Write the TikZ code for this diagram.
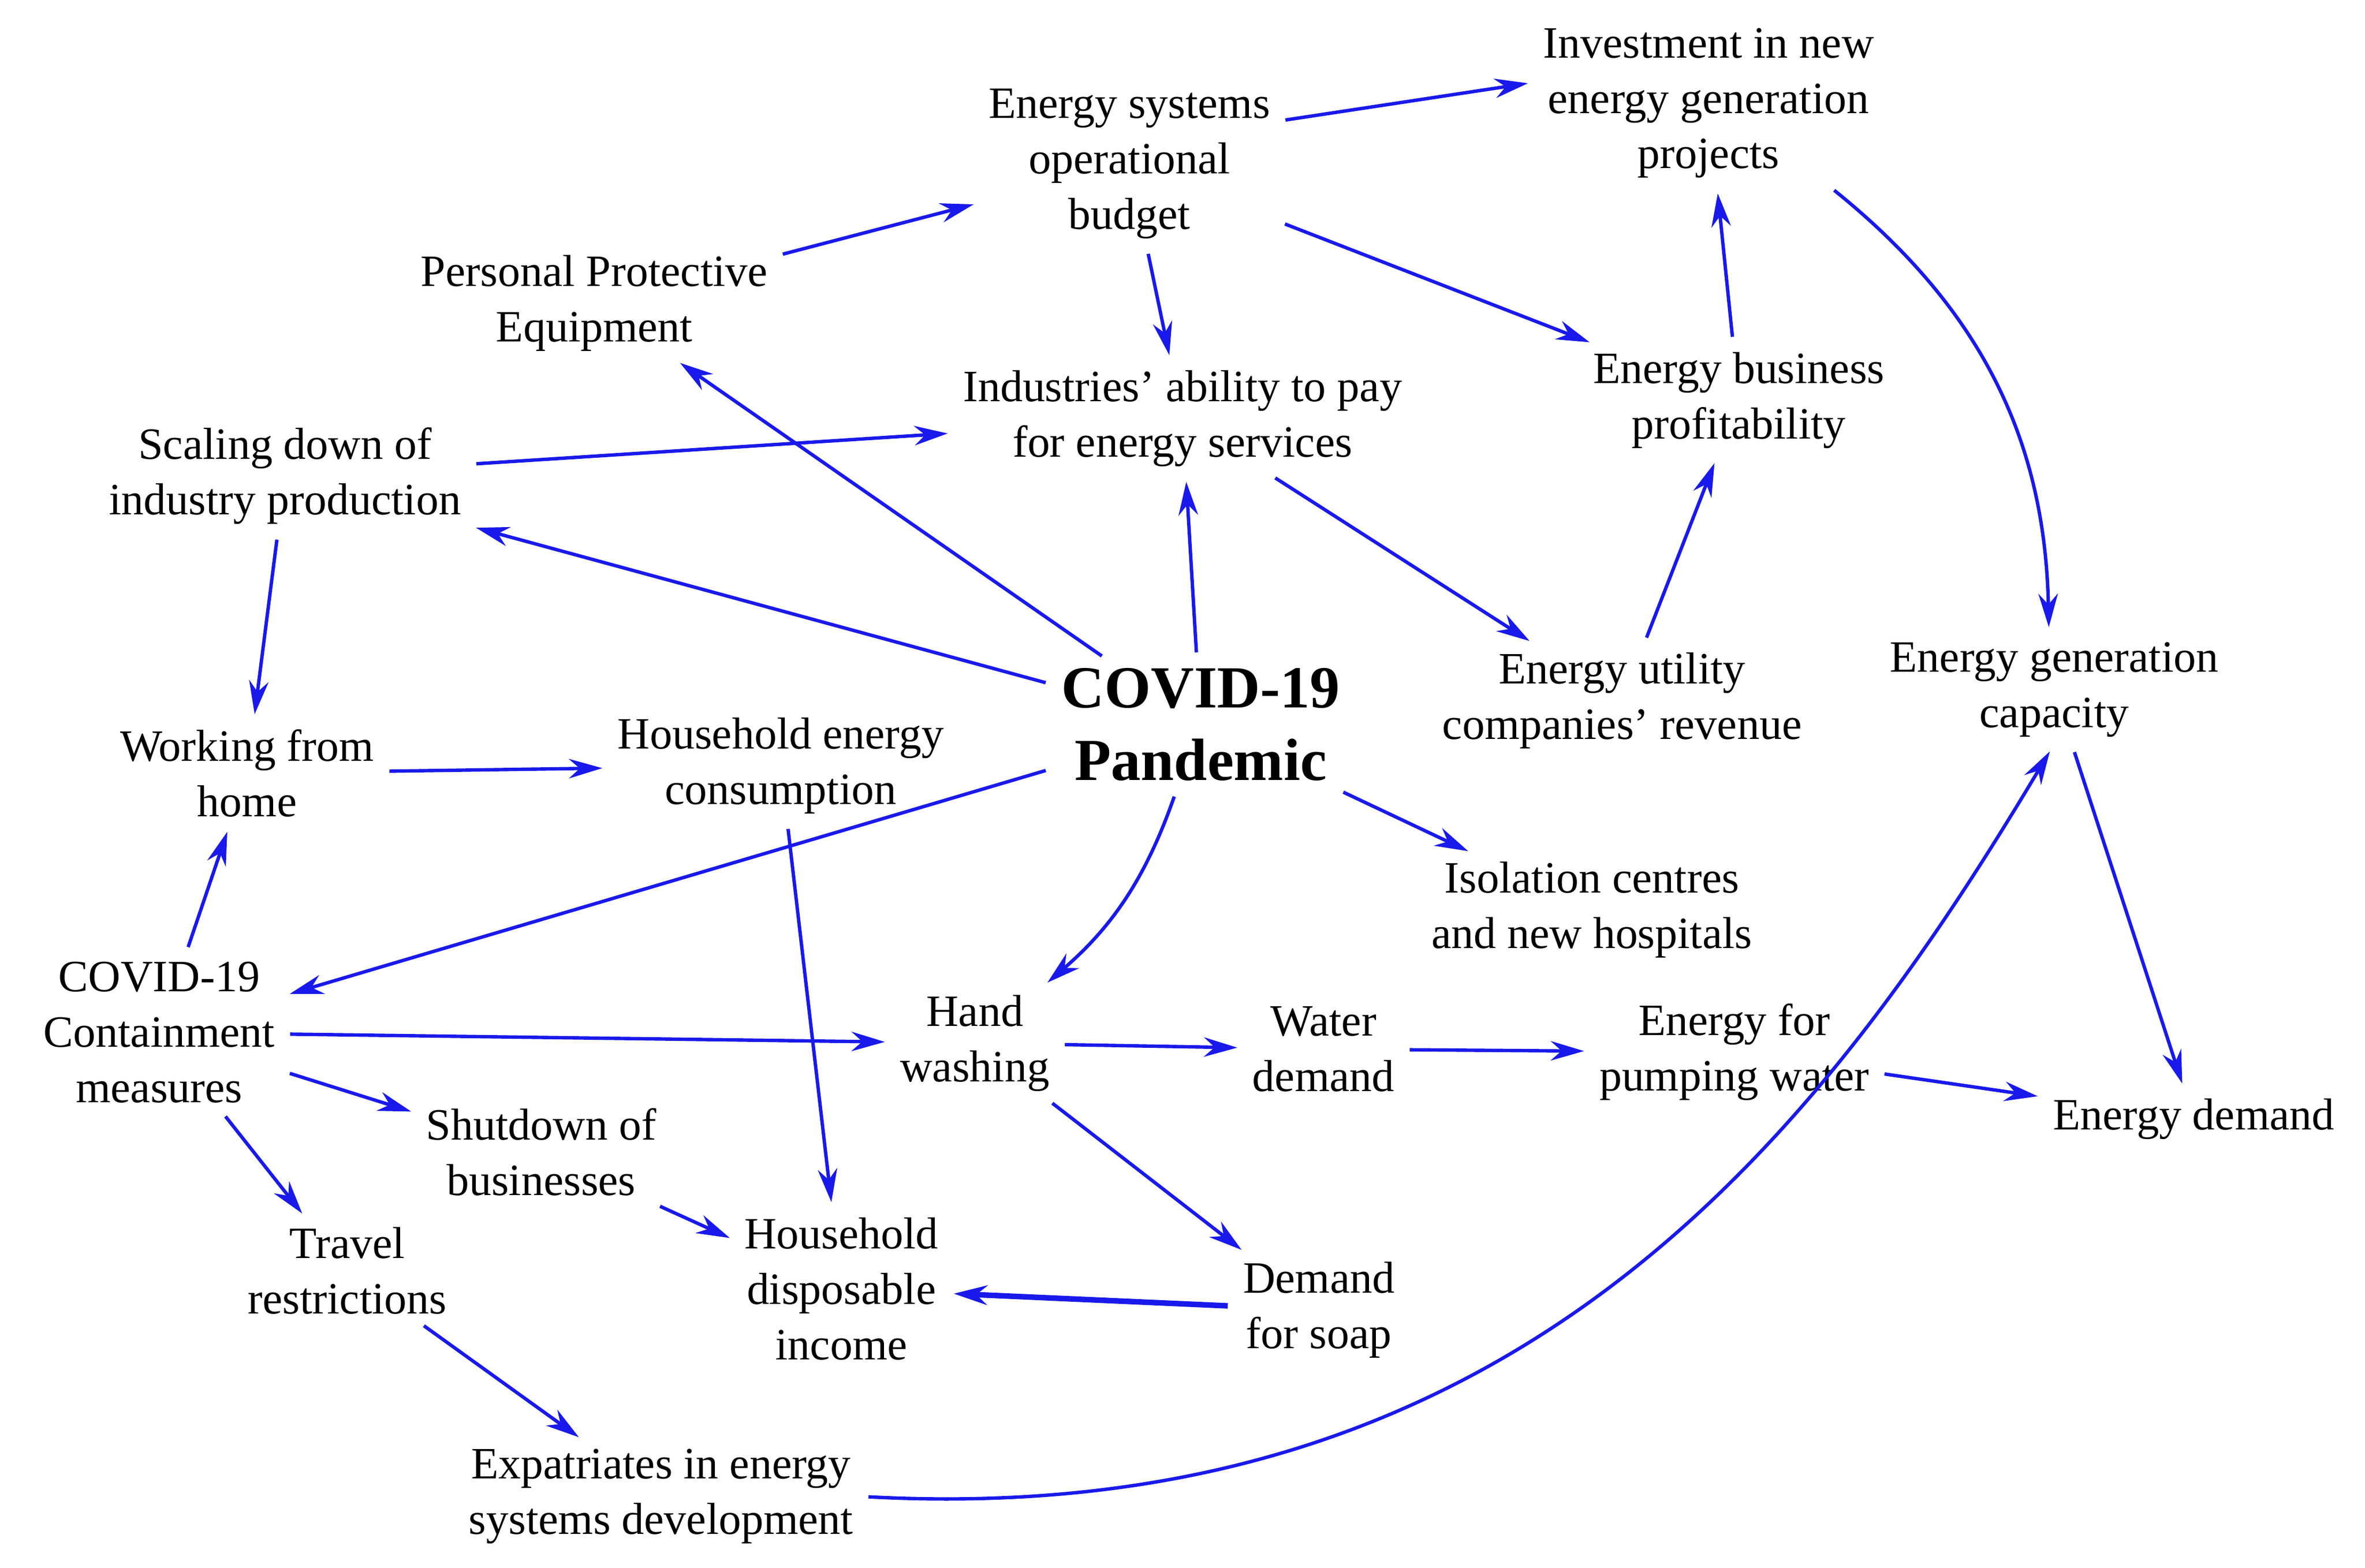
\documentclass[tikz,border=0pt]{standalone}
\usepackage{fontspec}
\setmainfont{Liberation Serif}
\usetikzlibrary{arrows.meta}
\definecolor{arr}{RGB}{25,25,235}
\begin{document}
\begin{tikzpicture}[x=0.025cm,y=-0.025cm,
  lab/.style={align=center,font=\fontsize{21}{26}\selectfont,inner sep=3pt},
  ar/.style={draw=arr,line width=1.6pt,-{Stealth[length=0.55cm,width=0.32cm]},shorten >=4pt,shorten <=4pt}]
\useasboundingbox (0,0) rectangle (1560,1034);
\node[lab] (esob) at (745,108) {Energy systems\\operational\\budget};
\node[lab] (inv) at (1127,68) {Investment in new\\energy generation\\projects};
\node[lab] (ppe) at (392,200) {Personal Protective\\Equipment};
\node[lab] (ind) at (780,276) {Industries' ability to pay\\for energy services};
\node[lab] (ebp) at (1147,264) {Energy business\\profitability};
\node[lab] (scal) at (188,314) {Scaling down of\\industry production};
\node[align=center,font=\bfseries\fontsize{28}{34}\selectfont] (covid) at (792,478) {COVID-19\\Pandemic};
\node[lab] (euc) at (1070,462) {Energy utility\\companies' revenue};
\node[lab] (egc) at (1355,455) {Energy generation\\capacity};
\node[lab] (wfh) at (163,510) {Working from\\home};
\node[lab] (hec) at (515,505) {Household energy\\consumption};
\node[lab] (iso) at (1050,600) {Isolation centres\\and new hospitals};
\node[lab] (cont) at (105,681) {COVID-19\\Containment\\measures};
\node[lab] (hand) at (643,688) {Hand\\washing};
\node[lab] (water) at (873,692) {Water\\demand};
\node[lab] (efp) at (1144,694) {Energy for\\pumping water};
\node[lab] (ed) at (1447,738) {Energy demand};
\node[lab] (shut) at (357,760) {Shutdown of\\businesses};
\node[lab] (travel) at (229,838) {Travel\\restrictions};
\node[lab] (hdi) at (555,850) {Household\\disposable\\income};
\node[lab] (soap) at (870,864) {Demand\\for soap};
\node[lab] (expat) at (436,987) {Expatriates in energy\\systems development};

\draw[ar] (ppe) -- (esob);
\draw[ar] (esob.east) ++(0,-28) -- (inv.west|-esob.north);
\draw[ar] (esob) -- (ind);
\draw[ar] (esob) -- (ebp);
\draw[ar] (ebp) -- (inv);
\draw[ar] (inv) to[bend left=25] (egc);
\draw[ar] (covid) -- (ppe);
\draw[ar] (covid) -- (scal);
\draw[ar] (covid) -- (ind);
\draw[ar] (scal) -- (ind);
\draw[ar] (ind) -- (euc);
\draw[ar] (euc) -- (ebp);
\draw[ar] (scal) -- (wfh);
\draw[ar] (wfh) -- (hec);
\draw[ar] (covid) -- (cont);
\draw[ar] (covid) to[bend left=15] (hand);
\draw[ar] (covid) -- (iso);
\draw[ar] (cont) -- (wfh);
\draw[ar] (cont) -- (hand);
\draw[ar] (cont) -- (shut);
\draw[ar] (cont) -- (travel);
\draw[ar] (hec) -- (hdi);
\draw[ar] (shut) -- (hdi);
\draw[ar] (hand) -- (water);
\draw[ar] (hand) -- (soap);
\draw[ar,line width=2.6pt] (soap) -- (hdi);
\draw[ar] (water) -- (efp);
\draw[ar] (efp) -- (ed);
\draw[ar] (egc) -- (ed);
\draw[ar] (travel) -- (expat);
\draw[ar] (expat.east) .. controls (1000,1010) and (1200,750) .. (egc.south);
\end{tikzpicture}
\end{document}
